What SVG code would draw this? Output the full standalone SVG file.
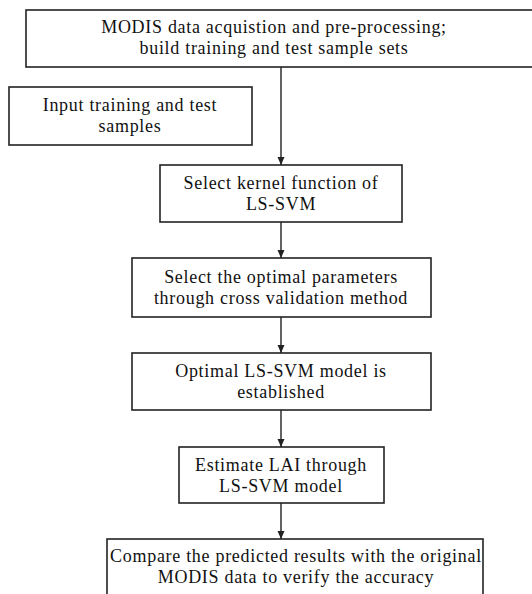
<svg xmlns="http://www.w3.org/2000/svg" width="532" height="594" viewBox="0 0 532 594">
<defs>
<style>
.box{fill:#fff;stroke:#222;stroke-width:1.6}
.t{font-family:"Liberation Serif","Times New Roman",serif;font-size:18px;letter-spacing:0.7px;fill:#111;text-anchor:middle}
.c{stroke:#222;stroke-width:1.4;fill:none}
</style>
<marker id="ah" viewBox="0 0 8 10" refX="8" refY="5" markerWidth="8" markerHeight="10" markerUnits="userSpaceOnUse" orient="auto">
<path d="M0,1.5 L8,5 L0,8.5 Z" fill="#222"/>
</marker>
</defs>
<rect width="532" height="594" fill="#fff"/>
<g id="connectors">
<line class="c" x1="281" y1="67" x2="281" y2="165" marker-end="url(#ah)"/>
<line class="c" x1="281" y1="222" x2="281" y2="258" marker-end="url(#ah)"/>
<line class="c" x1="281" y1="317" x2="281" y2="353" marker-end="url(#ah)"/>
<line class="c" x1="281" y1="410" x2="281" y2="447" marker-end="url(#ah)"/>
<line class="c" x1="281" y1="503" x2="281" y2="539" marker-end="url(#ah)"/>
</g>
<g id="n1">
<rect class="box" x="26" y="10" width="520" height="57"/>
<text class="t" x="274" y="33">MODIS data acquistion and pre-processing;</text>
<text class="t" x="274" y="54">build training and test sample sets</text>
</g>
<g id="n2">
<rect class="box" x="9" y="87" width="243" height="58"/>
<text class="t" x="130" y="111">Input training and test</text>
<text class="t" x="130" y="132">samples</text>
</g>
<g id="n3">
<rect class="box" x="160" y="165" width="242" height="57"/>
<text class="t" x="281" y="189">Select kernel function of</text>
<text class="t" x="281" y="210">LS-SVM</text>
</g>
<g id="n4">
<rect class="box" x="132" y="258" width="299" height="59"/>
<text class="t" x="281" y="283">Select the optimal parameters</text>
<text class="t" x="281" y="304">through cross validation method</text>
</g>
<g id="n5">
<rect class="box" x="132" y="353" width="299" height="57"/>
<text class="t" x="281" y="377">Optimal LS-SVM model is</text>
<text class="t" x="281" y="398">established</text>
</g>
<g id="n6">
<rect class="box" x="179" y="447" width="205" height="56"/>
<text class="t" x="281" y="471">Estimate LAI through</text>
<text class="t" x="281" y="492">LS-SVM model</text>
</g>
<g id="n7">
<rect class="box" x="107" y="539" width="376" height="70"/>
<text class="t" x="296" y="562">Compare the predicted results with the original</text>
<text class="t" x="296" y="583">MODIS data to verify the accuracy</text>
</g>
</svg>
